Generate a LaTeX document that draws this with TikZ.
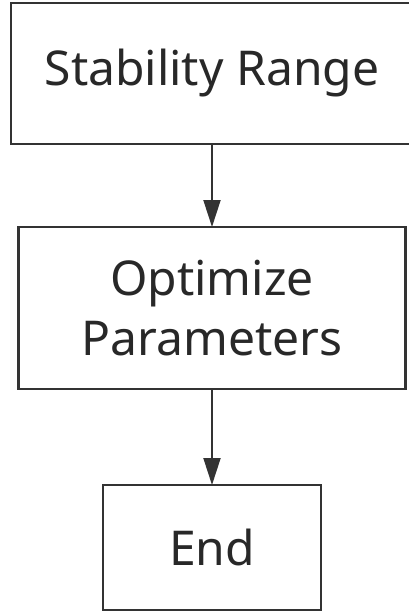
\documentclass[tikz,border=0pt]{standalone}
\usepackage{fontspec}
\setmainfont{Noto Sans}
\usetikzlibrary{positioning,arrows.meta}
\definecolor{fcLine}{RGB}{51,51,51}
\definecolor{fcText}{RGB}{40,40,40}

\begin{document}
\begin{tikzpicture}[
  x=1pt, y=1pt,
  every node/.style={font=\fontsize{48}{60}\selectfont, text=fcText},
  block/.style={draw=fcLine, line width=2.4pt, fill=white, align=center, inner sep=0pt, outer sep=0pt},
  arrow/.style={-{Triangle[length=27pt, width=17pt]}, line width=2pt, fcLine}
]
\useasboundingbox (0,0) rectangle (409,-611);

% the chain of steps
\node[block, minimum width=402pt, minimum height=141pt] (stab) at (212,-73.5) {Stability Range};
\node[block, minimum width=387pt, minimum height=162pt, below=83pt of stab] (optim) {Optimize\\Parameters};
\node[block, minimum width=218pt, minimum height=125pt, below=96pt of optim] (finish) {End};

% Arrows
\draw[arrow] (stab) -- (optim);
\draw[arrow] (optim) -- (finish);

\end{tikzpicture}
\end{document}
